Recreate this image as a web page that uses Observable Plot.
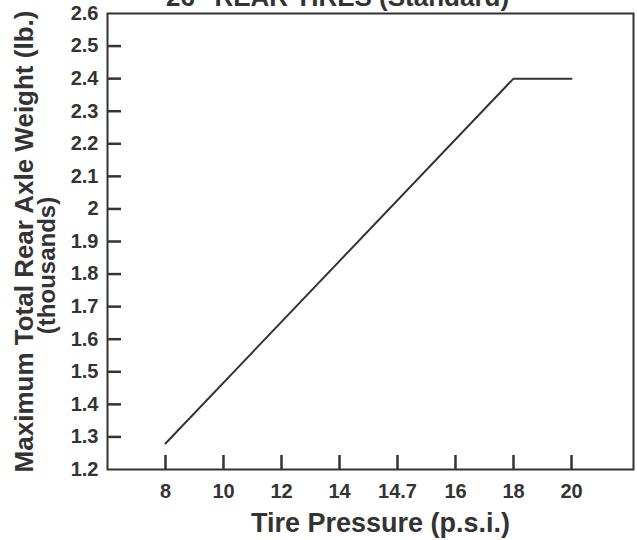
<!DOCTYPE html>
<html>
<head>
<meta charset="utf-8">
<script src="https://cdn.jsdelivr.net/npm/d3@7"></script>
<script src="https://cdn.jsdelivr.net/npm/@observablehq/plot@0.6"></script>
<style>
  html, body { margin: 0; padding: 0; background: #fff; }
  #chart svg { display: block; }
</style>
</head>
<body>
<div id="chart"></div>
<script>
const title = "26\" REAR TIRES (Standard)";
const xLabel = "Tire Pressure (p.s.i.)";
const yLabel = "Maximum Total Rear Axle Weight (lb.)";
const yLabel2 = "(thousands)";
const pressureCategories = ["8", "10", "12", "14", "14.7", "16", "18", "20"];
const yTickValues = [1.2, 1.3, 1.4, 1.5, 1.6, 1.7, 1.8, 1.9, 2.0, 2.1, 2.2, 2.3, 2.4, 2.5, 2.6];
const yTickLabels = ["1.2", "1.3", "1.4", "1.5", "1.6", "1.7", "1.8", "1.9", "2", "2.1", "2.2", "2.3", "2.4", "2.5", "2.6"];
const linePressure = ["8", "18", "20"];
const lineWeight = [1.28, 2.40, 2.40];

const lineData = linePressure.map((p, i) => ({pressure: p, weight: lineWeight[i]}));
const yTicks = yTickValues.map((v, i) => ({v, label: yTickLabels[i]}));
const ink = "#333";
const font = "'Liberation Sans', Arial, Helvetica, sans-serif";

const chart = Plot.plot({
  width: 637,
  height: 540,
  marginLeft: 107,
  marginRight: 4,
  marginTop: 13,
  marginBottom: 71,
  style: {fontFamily: font, fontWeight: "bold", color: ink, background: "#fff"},
  x: {type: "point", domain: pressureCategories, padding: 0.97, align: 0.48, axis: null},
  y: {type: "linear", domain: [1.2, 2.6], axis: null},
  marks: [
    Plot.tickY(yTickValues.slice(1, -1), {
      y: d => d, frameAnchor: "left", insetRight: 637 - 107 - 4 - 14,
      stroke: ink, strokeWidth: 2.5
    }),
    Plot.tickX(pressureCategories, {
      x: d => d, insetTop: 540 - 13 - 71 - 14,
      stroke: ink, strokeWidth: 2.5
    }),
    Plot.text(yTicks, {
      y: "v", text: "label", frameAnchor: "left", textAnchor: "end", lineAnchor: "middle", dx: -9,
      fontSize: 20, fontWeight: "bold", fill: ink
    }),
    Plot.text(pressureCategories, {
      x: d => d, text: d => d, frameAnchor: "bottom", textAnchor: "middle", lineAnchor: "top", dy: 14,
      fontSize: 20, fontWeight: "bold", fill: ink
    }),
    Plot.frame({stroke: ink, strokeWidth: 2}),
    Plot.line(lineData, {x: "pressure", y: "weight", stroke: ink, strokeWidth: 2}),
    Plot.text([title], {
      frameAnchor: "top", lineAnchor: "bottom", textAnchor: "middle", dy: -8, dx: -33,
      fontSize: 26, fontWeight: "bold", fill: ink
    }),
    Plot.text([xLabel], {
      frameAnchor: "bottom", lineAnchor: "bottom", textAnchor: "middle", dy: 62, dx: 10,
      fontSize: 27, fontWeight: "bold", fill: ink
    }),
    Plot.text([yLabel], {
      frameAnchor: "left", lineAnchor: "middle", textAnchor: "middle", rotate: -90, dx: -83, dy: 0,
      fontSize: 26, fontWeight: "bold", fill: ink
    }),
    Plot.text([yLabel2], {
      frameAnchor: "left", lineAnchor: "middle", textAnchor: "middle", rotate: -90, dx: -60, dy: 24,
      fontSize: 24, fontWeight: "bold", fill: ink
    })
  ]
});
document.getElementById("chart").appendChild(chart);
</script>
</body>
</html>
